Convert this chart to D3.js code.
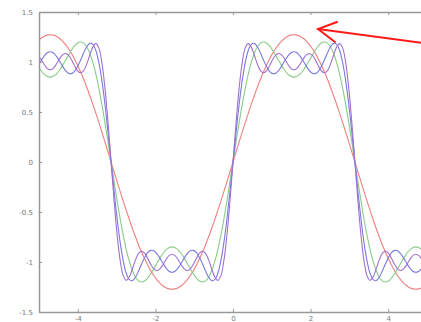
<!DOCTYPE html>
<html><head><meta charset="utf-8">
<script src="https://cdn.jsdelivr.net/npm/d3@7"></script>
<style>body{margin:0;background:#fff}svg{display:block}</style>
</head><body><svg id="c" width="421" height="322"></svg>
<script>
const xs = [-5.027,-4.948,-4.869,-4.791,-4.712,-4.634,-4.555,-4.477,-4.398,-4.320,-4.241,-4.163,-4.084,-4.006,-3.927,-3.848,-3.770,-3.691,-3.613,-3.534,-3.456,-3.377,-3.299,-3.220,-3.142,-3.063,-2.985,-2.906,-2.827,-2.749,-2.670,-2.592,-2.513,-2.435,-2.356,-2.278,-2.199,-2.121,-2.042,-1.963,-1.885,-1.806,-1.728,-1.649,-1.571,-1.492,-1.414,-1.335,-1.257,-1.178,-1.100,-1.021,-0.942,-0.864,-0.785,-0.707,-0.628,-0.550,-0.471,-0.393,-0.314,-0.236,-0.157,-0.079,
0,
0.079,0.157,0.236,0.314,0.393,0.471,0.550,0.628,0.707,0.785,0.864,0.942,1.021,1.100,1.178,1.257,1.335,1.414,1.492,1.571,1.649,1.728,1.806,1.885,1.963,2.042,2.121,2.199,2.278,2.356,2.435,2.513,2.592,2.670,2.749,2.827,2.906,2.985,3.063,3.142,3.220,3.299,3.377,3.456,3.534,3.613,3.691,3.770,3.848,3.927,4.006,4.084,4.163,4.241,4.320,4.398,4.477,4.555,4.634,4.712,4.791,4.869,4.948,5.027];

const s1 = [1.211,1.238,1.258,1.269,1.273,
1.269,1.258,1.238,1.211,1.176,1.135,1.086,1.030,0.968,0.900,0.827,0.748,0.665,0.578,0.487,0.394,0.297,0.199,0.100,
0,
-0.100,-0.199,-0.297,-0.394,-0.487,-0.578,-0.665,-0.748,-0.827,-0.900,-0.968,-1.030,-1.086,-1.135,-1.176,-1.211,-1.238,-1.258,-1.269,
-1.273,
-1.269,-1.258,-1.238,-1.211,-1.176,-1.135,-1.086,-1.030,-0.968,-0.900,-0.827,-0.748,-0.665,-0.578,-0.487,-0.394,-0.297,-0.199,-0.100,
0,
0.100,0.199,0.297,0.394,0.487,0.578,0.665,0.748,0.827,0.900,0.968,1.030,1.086,1.135,1.176,1.211,1.238,1.258,1.269,1.273,
1.269,1.258,1.238,1.211,1.176,1.135,1.086,1.030,0.968,0.900,0.827,0.748,0.665,0.578,0.487,0.394,0.297,0.199,0.100,0,
-0.100,-0.199,-0.297,-0.394,-0.487,-0.578,-0.665,-0.748,-0.827,-0.900,-0.968,-1.030,-1.086,-1.135,-1.176,-1.211,-1.238,-1.258,-1.269,-1.273,
-1.269,-1.258,-1.238,-1.211];

const s2 = [0.961,0.915,0.879,0.857,0.849,
0.857,0.879,0.915,0.961,1.014,1.068,1.119,1.161,1.190,1.200,1.189,1.152,1.088,0.997,0.879,0.737,0.573,0.392,0.199,
0,
-0.199,-0.392,-0.573,-0.737,-0.879,-0.997,-1.088,-1.152,-1.189,-1.200,-1.190,-1.161,-1.119,-1.068,-1.014,-0.961,-0.915,-0.879,-0.857,
-0.849,
-0.857,-0.879,-0.915,-0.961,-1.014,-1.068,-1.119,-1.161,-1.190,-1.200,-1.189,-1.152,-1.088,-0.997,-0.879,-0.737,-0.573,-0.392,-0.199,
0,
0.199,0.392,0.573,0.737,0.879,0.997,1.088,1.152,1.189,1.200,1.190,1.161,1.119,1.068,1.014,0.961,0.915,0.879,0.857,0.849,
0.857,0.879,0.915,0.961,1.014,1.068,1.119,1.161,1.190,1.200,1.189,1.152,1.088,0.997,0.879,0.737,0.573,0.392,0.199,0,
-0.199,-0.392,-0.573,-0.737,-0.879,-0.997,-1.088,-1.152,-1.189,-1.200,-1.190,-1.161,-1.119,-1.068,-1.014,-0.961,-0.915,-0.879,-0.857,-0.849,
-0.857,-0.879,-0.915,-0.961];

const s3 = [0.961,1.013,1.059,1.092,1.103,
1.092,1.059,1.013,0.961,0.916,0.888,0.884,0.907,0.955,1.020,1.091,1.152,1.186,1.177,1.115,0.991,0.808,0.572,0.296,
0,
-0.296,-0.572,-0.808,-0.991,-1.115,-1.177,-1.186,-1.152,-1.091,-1.020,-0.955,-0.907,-0.884,-0.888,-0.916,-0.961,-1.013,-1.059,-1.092,
-1.103,
-1.092,-1.059,-1.013,-0.961,-0.916,-0.888,-0.884,-0.907,-0.955,-1.020,-1.091,-1.152,-1.186,-1.177,-1.115,-0.991,-0.808,-0.572,-0.296,
0,
0.296,0.572,0.808,0.991,1.115,1.177,1.186,1.152,1.091,1.020,0.955,0.907,0.884,0.888,0.916,0.961,1.013,1.059,1.092,1.103,
1.092,1.059,1.013,0.961,0.916,0.888,0.884,0.907,0.955,1.020,1.091,1.152,1.186,1.177,1.115,0.991,0.808,0.572,0.296,0,
-0.296,-0.572,-0.808,-0.991,-1.115,-1.177,-1.186,-1.152,-1.091,-1.020,-0.955,-0.907,-0.884,-0.888,-0.916,-0.961,-1.013,-1.059,-1.092,-1.103,
-1.092,-1.059,-1.013,-0.961];

const s4 = [1.068,1.027,0.977,0.937,0.922,
0.937,0.977,1.027,1.068,1.085,1.068,1.022,0.963,0.912,0.892,0.914,0.979,1.068,1.149,1.184,1.139,0.989,0.734,0.392,
0,
-0.392,-0.734,-0.989,-1.139,-1.184,-1.149,-1.068,-0.979,-0.914,-0.892,-0.912,-0.963,-1.022,-1.068,-1.085,-1.068,-1.027,-0.977,-0.937,
-0.922,
-0.937,-0.977,-1.027,-1.068,-1.085,-1.068,-1.022,-0.963,-0.912,-0.892,-0.914,-0.979,-1.068,-1.149,-1.184,-1.139,-0.989,-0.734,-0.392,
0,
0.392,0.734,0.989,1.139,1.184,1.149,1.068,0.979,0.914,0.892,0.912,0.963,1.022,1.068,1.085,1.068,1.027,0.977,0.937,0.922,
0.937,0.977,1.027,1.068,1.085,1.068,1.022,0.963,0.912,0.892,0.914,0.979,1.068,1.149,1.184,1.139,0.989,0.734,0.392,0,
-0.392,-0.734,-0.989,-1.139,-1.184,-1.149,-1.068,-0.979,-0.914,-0.892,-0.912,-0.963,-1.022,-1.068,-1.085,-1.068,-1.027,-0.977,-0.937,-0.922,
-0.937,-0.977,-1.027,-1.068];

const seriesList = [s1, s2, s3, s4];
const seriesNames = ["1 term", "2 terms", "3 terms", "4 terms"];
const xTicks = [-4, -2, 0, 2, 4];
const yTicks = [-1.5, -1, -0.5, 0, 0.5, 1, 1.5];

const colors = ["#f08080", "#88cc88", "#7878e0", "#a070d0"];

const svg = d3.select("#c");
const L = 39, T = 12, B = 312, R = 427;
const x = d3.scaleLinear().domain([-5, 5]).range([L, R]);
const y = d3.scaleLinear().domain([-1.5, 1.5]).range([B, T]);

svg.append("clipPath").attr("id", "clip")
  .append("rect").attr("x", L).attr("y", T).attr("width", R - L).attr("height", B - T);

const line = d3.line().x(d => x(d[0])).y(d => y(d[1])).curve(d3.curveCatmullRom);

const g = svg.append("g").attr("clip-path", "url(#clip)");
seriesList.forEach((s, i) => {
  const pts = xs.map((xv, j) => [xv, s[j]]).filter(p => p[1] !== undefined);
  g.append("path").datum(pts)
    .attr("d", line)
    .attr("fill", "none")
    .attr("stroke", colors[i])
    .attr("stroke-width", 1.1)
    .attr("data-name", seriesNames[i]);
});

const axisColor = "#999";
const fmt = d => String(d).replace("\u2212", "-");

const gx = svg.append("g").attr("transform", `translate(0,${B})`)
  .call(d3.axisBottom(x).tickValues(xTicks).tickSizeInner(-3).tickSizeOuter(0).tickPadding(4).tickFormat(fmt));
const gxt = svg.append("g").attr("transform", `translate(0,${T})`)
  .call(d3.axisTop(x).tickValues(xTicks).tickSizeInner(-3).tickSizeOuter(0).tickFormat(""));
const gy = svg.append("g").attr("transform", `translate(${L},0)`)
  .call(d3.axisLeft(y).tickValues(yTicks).tickSizeInner(-3).tickSizeOuter(0).tickPadding(6).tickFormat(fmt));

[gx, gxt, gy].forEach(a => {
  a.selectAll(".domain").attr("stroke", axisColor).attr("stroke-width", 1.5);
  a.selectAll(".tick line").attr("stroke", axisColor);
  a.selectAll("text").attr("fill", "#777").style("font-family", "DejaVu Sans, sans-serif").style("font-size", "7px");
});

// annotation arrow
const arrow = svg.append("g").attr("stroke", "#ff1a1a").attr("stroke-width", 2).attr("fill", "none")
  .attr("stroke-linecap", "round");
arrow.append("line").attr("x1", 423).attr("y1", 43).attr("x2", 318).attr("y2", 29);
arrow.append("polyline").attr("points", "337,22 318,29 335,42");
</script>
</body></html>
